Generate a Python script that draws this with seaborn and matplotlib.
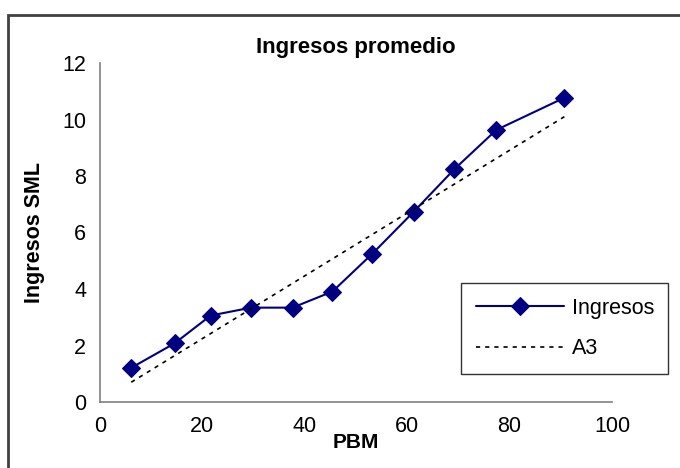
import pandas as pd
import numpy as np
import matplotlib
matplotlib.use("Agg")
import matplotlib.pyplot as plt
import seaborn as sns
from matplotlib.patches import Rectangle

# values
pbm = [6.1, 14.6, 21.6, 29.5, 37.6, 45.4, 53.2, 61.3, 69.2, 77.4, 90.7]
ingresos = [1.21, 2.08, 3.06, 3.34, 3.34, 3.91, 5.25, 6.74, 8.24, 9.63, 10.77]

# A3 trend line, its two end points
a3_x = [6.1, 90.7]
a3_y = [0.70, 10.10]

data = pd.DataFrame({"PBM": pbm, "Ingresos": ingresos})
trend = pd.DataFrame({"PBM": a3_x, "A3": a3_y})

sns.set_style("white")
plt.rcParams["font.family"] = ["Liberation Sans", "DejaVu Sans"]
plt.rcParams["text.color"] = "black"
plt.rcParams["axes.labelcolor"] = "black"

fig = plt.figure(figsize=(6.8, 4.68), dpi=100)
ax = fig.add_axes([100 / 680, 1 - 402 / 468, 512 / 680, 339 / 468])

sns.lineplot(
    data=data,
    x="PBM",
    y="Ingresos",
    marker="D",
    markersize=9,
    color="#000080",
    markeredgecolor="#000080",
    linewidth=1.5,
    label="Ingresos",
    ax=ax,
)
sns.lineplot(
    data=trend,
    x="PBM",
    y="A3",
    color="black",
    linewidth=1.2,
    dashes=False,
    label="A3",
    ax=ax,
)
ax.lines[1].set_linestyle((0, (2.5, 3)))

ax.set_xlim(0, 100)
ax.set_ylim(0, 12)
ax.set_xticks(range(0, 101, 20))
ax.set_yticks(range(0, 13, 2))

for side in ["top", "right"]:
    ax.spines[side].set_visible(False)
for side in ["left", "bottom"]:
    ax.spines[side].set_color("#808080")
    ax.spines[side].set_linewidth(1.2)

ax.tick_params(axis="both", direction="out", length=5, width=1.2, color="#808080",
               labelsize=15.5, labelcolor="black", pad=5)

ax.set_title("Ingresos promedio", fontsize=16, fontweight="bold", pad=7)
ax.set_xlabel("PBM", fontsize=15, fontweight="bold", labelpad=-3)
ax.set_ylabel("Ingresos SML", fontsize=15.5, fontweight="bold", labelpad=12)

leg = ax.legend(
    loc="center left",
    bbox_to_anchor=(461 / 680, 1 - 372 / 468, 207 / 680, 87 / 468),
    bbox_transform=fig.transFigure,
    mode="expand",
    frameon=True,
    fancybox=False,
    fontsize=15.5,
    handlelength=4.1,
    handletextpad=0.35,
    borderpad=0.7,
    labelspacing=0.9,
    borderaxespad=0,
)
leg.get_frame().set_edgecolor("black")
leg.get_frame().set_linewidth(1.0)

# outer chart frame (cut off at the right and bottom)
fig.patches.append(Rectangle((8 / 680, -0.1), 1.2, 1 - 15 / 468 + 0.1,
                             transform=fig.transFigure, fill=False,
                             edgecolor="#404040", linewidth=2))

fig.savefig("out.png", dpi=100)
